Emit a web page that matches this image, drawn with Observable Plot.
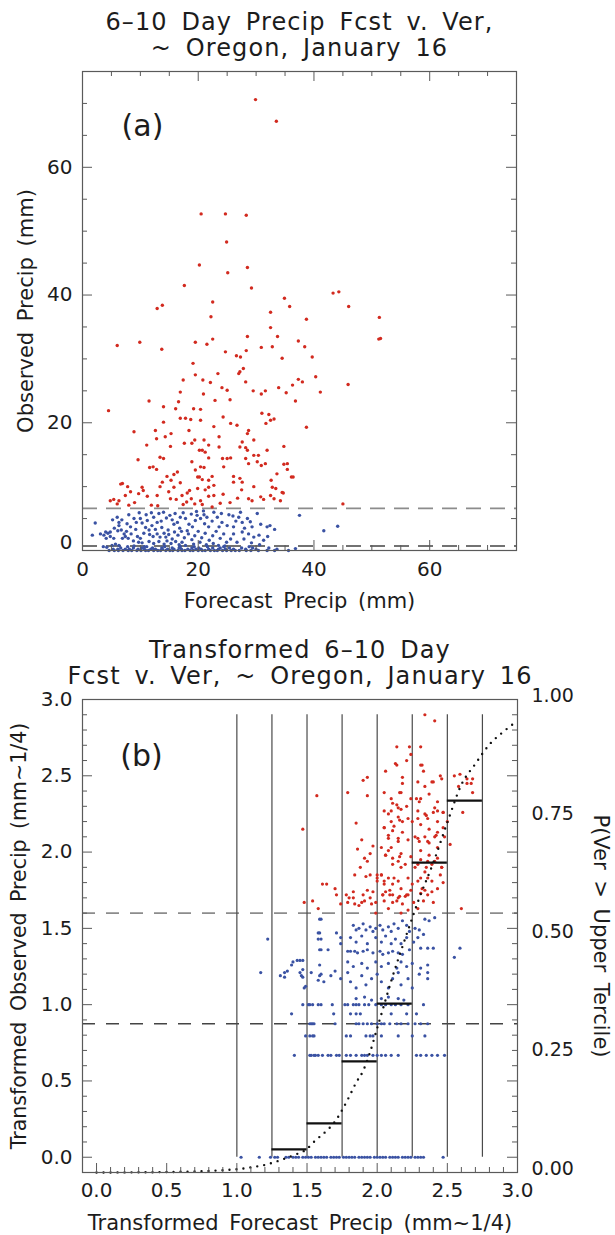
<!DOCTYPE html>
<html><head><meta charset="utf-8">
<script src="https://cdn.jsdelivr.net/npm/d3@7"></script>
<script src="https://cdn.jsdelivr.net/npm/@observablehq/plot@0.6"></script>
<style>
body{margin:0;background:#fff;}
#chart svg{display:block;}
#chart g[font-size="24"] text{letter-spacing:1.1px;word-spacing:5px;}
#chart g[font-size="21"] text{word-spacing:4px;}
#chart g[font-size="20.5"] text{word-spacing:4px;}
</style></head><body><div id="chart"></div>
<script>
// ---------------- Panel (a) data ----------------
const titleA1 = "6–10 Day Precip Fcst v. Ver,";
const titleA2 = "~ Oregon, January 16";
const xLabelA = "Forecast Precip (mm)";
const yLabelA = "Observed Precip (mm)";
const panelA = "(a)";
const aMajorTicks = [0, 20, 40, 60];
const aMinorTicks = [5, 10, 15, 25, 30, 35, 45, 50, 55, 65, 70];
const aUpperTercile = 6.6;
const aLowerTercile = 0.7;
const redA = [[29.9,70.6],[33.5,67.2],[20.5,52.7],[24.7,52.7],[28.3,52.5],[24.9,48.3],[20.2,44.7],[25.1,43.5],[28.5,44.3],[17.6,41.5],[29.2,41.1],[12.9,37.9],[13.8,38.4],[22.5,38.9],[22.2,36.6],[34.9,39.5],[35.8,38.2],[32.5,37.3],[38.7,36.2],[32.5,34.9],[6.0,32.1],[9.9,32.6],[13.7,31.5],[19.5,32.6],[21.5,32.3],[22.5,33.1],[24.7,31.1],[26.6,30.5],[27.3,30.3],[28.5,33.5],[28.3,31.3],[30.9,31.8],[32.8,31.9],[33.7,33.5],[34.5,30.1],[37.3,32.8],[38.4,31.9],[39.7,30.3],[19.1,29.3],[19.5,27.5],[23.4,27.7],[27.0,27.7],[27.2,28.0],[27.8,28.5],[40.3,27.2],[43.3,40.3],[44.3,40.5],[46.0,38.2],[51.3,36.5],[51.2,33.1],[51.5,33.2],[37.3,26.8],
[4.5,21.9],[11.5,23.4],[14.0,22.5],[17.4,26.7],[20.8,26.7],[20.9,24.5],[22.1,26.3],[22.9,23.5],[24.1,25.5],[25.5,23.6],[28.2,26.4],[29.5,25.0],[30.9,24.5],[31.6,25.0],[33.9,25.5],[35.2,24.7],[36.3,25.9],[38.0,26.4],[36.8,23.4],[41.1,24.8],[38.7,19.3],[45.9,26.0],
[8.9,18.6],[9.6,14.2],[11.1,16.5],[12.6,18.8],[12.8,17.5],[13.4,14.6],[14.0,20.1],[14.3,17.8],[15.3,18.3],[15.2,16.3],[14.0,14.4],[12.2,13.1],[12.8,12.7],[11.6,13.0],[10.3,9.9],[10.5,9.4],[9.7,8.9],[7.4,8.6],[6.9,10.5],[6.6,10.4],[7.8,10.0],[8.3,9.2],[5.4,8.0],[6.3,7.8],[4.8,7.8],[6.0,7.3],[11.2,8.5],[11.9,7.1],[12.9,8.6],[13.4,10.0],[13.8,10.7],[14.6,11.6],[15.3,11.0],[15.8,11.9],[16.4,12.3],[16.9,10.6],[15.8,9.9],[15.2,8.1],[16.2,8.0],[17.2,8.6],[18.1,9.0],[18.5,9.4],[17.4,7.2],[18.0,7.6],[19.4,7.3],[20.4,7.8],[18.8,8.1],[19.5,12.6],[19.9,11.5],[18.9,13.9],[17.6,16.8],[18.9,16.8],[19.4,17.3],[18.4,18.8],[18.7,20.5],[17.8,20.7],[19.2,22.2],[20.4,22.1],[20.4,20.4],[20.2,15.7],[21.0,17.3],[20.7,15.7],[21.2,15.4],[21.8,16.5],[20.4,13.1],[21.0,13.0],[20.2,11.5],[20.7,11.1],[21.8,11.0],[22.4,11.6],[21.8,9.9],[22.7,10.2],[21.2,9.5],[21.8,8.5],[22.7,8.6],[24.3,8.8],[20.7,7.2],[22.4,6.8],[23.6,16.2],[24.2,14.4],[25.0,14.4],[25.6,14.5],[24.4,13.1],[25.6,19.9],[26.1,11.6],[26.1,10.7],[27.2,11.3],[27.6,10.7],[27.2,16.2],[28.2,16.1],[28.5,15.7],[28.7,18.8],[28.5,18.3],[26.7,19.6],[28.7,13.6],[28.2,14.4],[29.6,14.9],[30.4,14.9],[30.2,13.9],[30.9,13.3],[31.6,13.6],[29.6,10.0],[30.8,8.4],[31.3,8.0],[28.7,8.1],[29.3,7.8],[32.6,11.0],[32.8,9.9],[32.5,8.6],[33.1,8.1],[33.4,9.7],[34.7,9.0],[33.6,12.0],[35.4,13.6],[36.1,11.5],[34.8,16.3],[31.9,15.7],[31.0,21.5],[32.2,21.3],[32.5,20.4],[31.7,19.9],[33.1,20.6],[16.9,20.7],[16.1,22.2],[16.6,23.3],[16.9,24.8],[21.8,14.5],[22.7,19.4],[23.6,17.8],[29.6,17.3],[25.0,25.1],[24.3,20.9],[27.6,17.0],[34.8,13.5],[35.4,12.7],[36.4,11.5],[34.5,9.1],[34.2,7.8],[45.0,7.3],
[25.5,7.5],[26.8,8.2],[23.8,7.4],[27.5,9.5],[19.9,9.7],[14.9,9.2],[13.0,7.0],[9.0,7.5],[8.0,7.1]];
const blueA = [[2.2,4.3],[1.7,2.4],[3.1,2.6],[3.7,2.4],[4.0,2.9],[4.4,2.7],[4.8,2.9],[4.1,1.9],[4.8,2.2],[5.4,1.9],[6.0,5.2],[6.3,4.4],[6.3,3.9],[6.1,3.1],[6.7,3.2],[7.2,2.6],[7.4,2.2],[6.9,1.9],[5.7,1.0],[5.1,0.8],[6.3,0.8],[4.2,0.5],[3.6,0.6],[7.7,4.2],[8.3,3.7],[8.9,5.0],[9.2,3.3],[8.4,2.6],[7.9,1.9],[8.8,1.5],[9.5,2.2],[10.0,1.9],[9.7,1.3],[10.3,1.2],[10.7,0.6],[8.9,0.7],[10.0,5.0],[10.3,4.3],[11.2,4.7],[10.9,3.6],[11.5,3.2],[12.0,3.9],[12.3,5.2],[12.9,4.4],[11.6,2.5],[12.2,2.2],[12.9,2.6],[13.4,2.1],[14.1,2.7],[14.4,2.1],[14.9,2.5],[15.5,1.8],[11.5,1.4],[12.3,1.1],[13.2,1.4],[14.1,1.0],[14.6,1.5],[15.3,1.1],[16.1,1.4],[16.7,0.9],[17.2,1.3],[17.8,0.8],[13.2,5.8],[14.0,6.0],[14.5,5.1],[15.1,5.5],[15.5,4.8],[15.8,4.1],[16.4,4.4],[16.9,5.2],[17.4,5.9],[17.8,5.0],[18.4,4.1],[18.1,3.1],[19.0,3.7],[19.5,4.7],[19.8,5.5],[20.4,5.0],[21.0,5.6],[21.5,5.2],[21.1,4.2],[21.8,3.7],[22.4,4.6],[22.7,6.0],[23.3,5.2],[23.6,3.7],[24.1,4.4],[25.0,3.9],[25.3,5.6],[26.1,3.7],[27.0,5.2],[27.6,4.4],[28.5,5.0],[29.3,3.7],[30.2,5.8],[30.8,4.1],[31.9,3.7],[32.4,3.9],[30.5,2.4],[28.7,2.6],[27.6,2.9],[26.1,2.6],[25.6,1.8],[26.7,1.3],[27.9,1.8],[29.6,2.1],[31.3,1.6],[37.5,5.5],[41.7,3.1],[44.1,3.8],[36.8,0.3],
[16.5,2.4],[17.1,3.0],[17.6,2.0],[18.3,2.6],[18.9,1.7],[19.4,2.3],[20.0,3.0],[20.6,2.0],[21.2,2.7],[21.9,1.6],[22.5,2.3],[23.1,3.0],[23.8,1.9],[24.4,2.6],[24.9,1.3],[19.2,1.0],[20.3,1.3],[21.4,0.9],[22.6,1.1],[23.5,0.8],[24.6,0.7],[9.3,4.4],[10.6,2.7],[11.0,5.6],[12.6,3.3],[13.7,3.6],[14.8,3.2],[15.9,2.9],[16.8,3.5],[13.6,4.6],[6.8,4.8],[7.6,3.0],[5.5,3.5],[5.2,4.8],[8.0,5.6],[9.8,5.9],[11.9,5.9],[16.0,5.8],[18.8,5.7],[19.7,6.1],[20.9,6.2],[26.5,4.6],[28.0,3.5],[29.0,4.5],[27.3,6.0],[24.0,5.8],[26.0,5.4],[33.2,3.3],[32.0,2.2],[29.2,1.2],[30.6,0.9]];
const blueA_row0 = [4.6,5.5,6.2,7.0,7.9,8.5,9.4,10.1,10.9,11.4,12.3,13.0,13.5,14.4,15.1,15.6,16.5,17.2,17.7,18.6,19.1,20.0,20.7,21.2,22.1,22.8,23.3,24.2,24.9,25.7,26.4,27.1,28.3,29.1,30.4,31.9,33.2,35.6];
const blueA_row02 = [5.3,6.1,7.4,8.1,9.6,10.7,11.8,12.6,13.8,14.7,15.8,17.1,18.2,19.6,20.5,21.8,23.5,24.7,26.1,28.2,30.0,33.6];
const blueA_row04 = [6.6,8.8,10.2,12.1,13.7,15.5,16.7,18.9,20.1,22.5,23.8,25.4,27.5,29.4,32.2];
const blueA_row06 = [7.8,11.1,14.2,16.9,19.3,21.6,24.4,28.8];

// ---------------- Panel (b) data ----------------
const titleB1 = "Transformed 6–10 Day";
const titleB2 = "Fcst v. Ver, ~ Oregon, January 16";
const xLabelB = "Transformed Forecast Precip (mm~1/4)";
const yLabelB = "Transformed Observed Precip (mm~1/4)";
const y2LabelB = "P(Ver > Upper Tercile)";
const panelB = "(b)";
const bMajorTicks = [0, 0.5, 1.0, 1.5, 2.0, 2.5, 3.0];
const bMinorTicks = [0.1,0.2,0.3,0.4,0.6,0.7,0.8,0.9,1.1,1.2,1.3,1.4,1.6,1.7,1.8,1.9,2.1,2.2,2.3,2.4,2.6,2.7,2.8,2.9];
const bProbTicks = [0, 0.25, 0.5, 0.75, 1.0];
const bUpperTercile = 1.6;
const bLowerTercile = 0.875;
const bBinEdges = [1.0, 1.25, 1.5, 1.75, 2.0, 2.25, 2.5, 2.75];
const bBinTop = 2.9;
const bBinLo = [1.25, 1.5, 1.75, 2.0, 2.25, 2.5];
const bBinHi = [1.5, 1.75, 2.0, 2.25, 2.5, 2.75];
const bBinProb = [0.049, 0.104, 0.235, 0.357, 0.655, 0.786];
const bCurveX = [0.0, 0.5, 1.0, 1.1, 1.2, 1.3, 1.4, 1.5, 1.55, 1.6, 1.65, 1.7, 1.75, 1.8, 1.85, 1.9, 1.95, 2.0, 2.05, 2.1, 2.2, 2.3, 2.4, 2.5, 2.6, 2.7, 2.8, 2.9, 3.0];
const bCurveP = [0.0, 0.001, 0.007, 0.011, 0.016, 0.025, 0.036, 0.05, 0.065, 0.078, 0.091, 0.108, 0.132, 0.16, 0.19, 0.215, 0.255, 0.305, 0.355, 0.405, 0.495, 0.58, 0.655, 0.74, 0.82, 0.864, 0.905, 0.932, 0.955];
const redB = [[2.34,2.90],[2.41,2.86],[1.57,2.37],[1.47,2.15],[1.48,1.67],[1.54,1.68],[1.58,1.63],
[1.61,1.79],[1.64,1.79],[1.70,1.76],[1.71,1.72],[1.74,1.66],[1.78,1.72],[1.80,1.70],[1.83,1.74],[1.84,1.66],[1.89,1.67],[1.90,1.72],[1.93,1.75],[1.95,1.70],[1.97,1.74],[1.99,1.67],[2.00,1.85],[2.03,1.85],[2.04,1.72],[2.06,1.74],[2.09,1.72],[2.11,1.72],[2.14,1.68],[2.17,1.60],[2.20,1.71],[2.22,1.72],[2.24,1.75],
[1.79,2.39],[1.85,2.19],[1.89,2.08],[1.86,2.02],[1.91,1.96],[1.97,2.04],[1.95,1.99],[1.93,1.94],[1.88,1.90],[1.84,1.85],[1.92,1.84],[1.95,1.85],
[1.90,2.47],[1.93,2.49],[1.93,2.37],[2.06,2.53],[2.14,2.69],[2.18,2.49],[2.21,2.60],[2.23,2.69],[2.14,2.57],[2.31,2.57],[2.31,2.69],
[2.05,2.39],[2.10,2.35],[2.17,2.39],[2.14,2.31],[2.17,2.28],[2.21,2.30],[2.24,2.35],[2.28,2.35],[2.30,2.33],
[2.05,2.27],[2.08,2.25],[2.10,2.20],[2.15,2.23],[2.18,2.20],[2.22,2.22],[2.25,2.20],[2.29,2.22],[2.34,2.25],[2.36,2.22],[2.40,2.26],[2.43,2.27],[2.47,2.26],
[2.05,2.16],[2.08,2.11],[2.11,2.14],[2.15,2.09],[2.18,2.13],[2.22,2.08],[2.27,2.10],[2.30,2.07],[2.34,2.10],[2.37,2.06],[2.41,2.10],[2.43,2.13],[2.48,2.10],
[2.03,2.03],[2.06,1.98],[2.08,2.01],[2.11,1.96],[2.15,1.94],[2.17,1.99],[2.20,1.92],[2.24,1.97],[2.27,1.90],[2.31,1.95],[2.34,1.87],[2.36,1.94],[2.39,1.92],[2.43,1.96],[2.46,1.90],
[2.00,1.83],[2.05,1.81],[2.08,1.83],[2.11,1.79],[2.15,1.81],[2.17,1.76],[2.22,1.83],[2.25,1.79],[2.29,1.81],[2.32,1.76],[2.36,1.83],[2.39,1.74],[2.43,1.76],[2.47,1.80],
[2.05,1.68],[2.08,1.63],[2.11,1.67],[2.15,1.70],[2.18,1.66],[2.22,1.62],[2.26,1.67],[2.29,1.63],[2.33,1.68],[2.36,1.72],[2.40,1.67],[2.31,1.73],[2.34,1.75],
[2.55,2.50],[2.59,2.51],[2.64,2.45],[2.68,2.48],[2.68,2.39],[2.58,2.43],[2.61,2.26],[2.60,1.63],[2.52,2.05],[2.50,2.20],
[2.24,2.64],[2.13,2.58],[2.32,2.57],[2.33,2.53],[2.18,2.45],[2.16,2.39],[2.39,2.46],[2.45,2.50],[2.46,2.48],[2.67,2.45],[2.64,2.48],
[1.79,1.67],[1.83,1.70],[1.87,1.65],[1.91,1.68],[1.96,1.66],[1.99,1.60],
[2.11,2.32],[2.15,2.29],[2.10,2.27],[2.16,2.21],[2.05,2.16],[2.12,2.17],[2.08,2.09],[2.15,2.07],[2.10,2.03],[2.06,1.98],[2.16,1.97],[2.11,1.92],[2.17,1.90],[2.03,1.85],[2.12,1.83],[2.05,1.79],[2.00,1.81],[2.09,1.75],[2.16,1.71],[2.21,1.72],[2.04,1.72],
[2.29,2.46],[2.34,2.43],[2.40,2.46],[2.31,2.35],[2.37,2.38],[2.43,2.33],[2.29,2.27],[2.35,2.24],[2.41,2.29],[2.47,2.26],[2.31,2.18],[2.37,2.15],[2.43,2.20],[2.29,2.09],[2.36,2.07],[2.42,2.11],[2.47,2.16],[2.31,2.01],[2.37,1.98],[2.43,2.03],[2.29,1.92],[2.35,1.90],[2.41,1.94],[2.46,1.90],[2.31,1.83],[2.39,1.81],[2.45,1.85]];
const blueB = [[1.22,1.43],[1.17,1.21],[1.34,1.21],[1.34,1.18],[1.39,1.26],[1.43,1.29],[1.47,1.29],[1.45,1.21],[1.47,1.18],[1.53,1.21],[1.48,1.11],[1.59,1.56],[1.59,1.47],[1.58,1.43],[1.59,1.36],[1.59,1.26],[1.59,1.19],
[1.60,1.56],[1.58,1.47],[1.60,1.43],[1.60,1.36],[1.65,1.36],[1.71,1.47],[1.74,1.44],[1.74,1.40],
[1.79,1.35],[1.81,1.35],[1.84,1.35],[1.86,1.34],[1.90,1.35],[1.93,1.36],[1.97,1.34],[2.02,1.35],[2.04,1.33],[2.08,1.34],[2.11,1.35],[2.15,1.34],[2.18,1.33],[2.23,1.36],[2.31,1.37],[2.36,1.37],[2.40,1.37],
[1.83,1.52],[1.85,1.49],[1.87,1.50],[1.90,1.53],[1.92,1.49],[1.95,1.51],[1.97,1.48],[1.99,1.50],[2.02,1.52],[2.04,1.49],[2.08,1.51],[2.10,1.48],[2.12,1.53],[2.15,1.50],[2.18,1.55],[2.21,1.52],[2.23,1.48],[2.27,1.50],[2.30,1.49],[2.34,1.56],[2.37,1.55],[2.41,1.57],
[1.81,1.44],[1.85,1.41],[1.89,1.45],[1.93,1.40],[1.99,1.44],[2.03,1.41],[2.06,1.45],[2.10,1.40],[2.13,1.43],[2.17,1.40],[2.21,1.44],[2.26,1.41],[2.29,1.44],[2.33,1.46],
[1.79,1.28],[1.83,1.25],[1.89,1.27],[1.93,1.24],[1.99,1.28],[2.03,1.25],[2.08,1.27],[2.14,1.24],[2.17,1.28],[2.21,1.25],[2.25,1.27],[2.31,1.24],[2.36,1.26],[2.59,1.37],[2.55,1.31],
[1.31,1.19],[1.36,1.22],[1.40,1.28],[1.45,1.29],[1.47,1.23],[1.46,1.19],[1.49,1.12],[1.58,1.16],[1.60,1.20],[1.62,1.15],[1.67,1.19],[1.70,1.22],[1.74,1.17],[1.79,1.21],[1.81,1.15],[1.85,1.11],[1.89,1.19],[1.92,1.13],[1.96,1.17],[2.00,1.20],[2.03,1.15],[2.08,1.11],[2.11,1.17],[2.15,1.21],[2.17,1.13],[2.22,1.17],[2.25,1.11],[2.30,1.20],[2.36,1.21],[2.36,1.17],
[1.85,1.04],[1.91,1.05],[1.96,1.03],[2.03,1.04],[2.08,1.05],[2.15,1.04],[2.19,1.03]];
const blueB_row100 = [1.47,1.51,1.52,1.54,1.58,1.60,1.68,1.77,1.79,1.83,1.85,1.87,1.91,1.94,1.99,2.03,2.06,2.10,2.13,2.17,2.22,2.33];
const blueB_row094 = [1.39,1.69,1.81,1.85,1.88,2.10,2.21,2.28];
const blueB_row087 = [1.52,1.53,1.54,1.55,1.70,1.85,1.87,1.90,1.93,1.96,2.00,2.03,2.05,2.09,2.14,2.17,2.22,2.27,2.31,2.36];
const blueB_row079 = [1.49,1.52,1.54,1.55,1.78,1.81,1.92,1.95,1.97,2.03,2.15,2.25,2.34];
const blueB_row067 = [1.41,1.52,1.53,1.55,1.56,1.58,1.61,1.65,1.67,1.71,1.73,1.78,1.81,1.85,1.89,1.91,1.93,1.97,2.00,2.03,2.06,2.10,2.15,2.28,2.31,2.35,2.39,2.43,2.48];
const blueB_row0 = [1.03,1.16,1.24,1.27,1.29,1.35,1.37,1.40,1.42,1.44,1.47,1.49,1.51,1.53,1.56,1.58,1.60,1.62,1.64,1.67,1.69,1.71,1.73,1.76,1.78,1.80,1.82,1.84,1.87,1.89,1.91,1.93,1.95,1.98,2.00,2.02,2.04,2.06,2.09,2.11,2.13,2.15,2.18,2.20,2.22,2.24,2.27,2.29,2.31,2.33,2.47];

// ---------------- styling ----------------
const FONT = "DejaVu Sans";
const RED = "#d22a1f";
const BLUE = "#3a52a3";
const AXC = "#5a5a5a";
const TXT = "#1c1c1c";
const W = 615;

function rows(list, y) { return list.map(x => [x, y]); }

// ---------- Panel (a) ----------
const aH = 615, aTop = 71, aBottom = 65, aLeft = 82, aRight = 99;
const aIH = aH - aTop - aBottom, aIW = W - aLeft - aRight;
const blueAll = blueA.concat(rows(blueA_row0, 0), rows(blueA_row02, 0.2), rows(blueA_row04, 0.4), rows(blueA_row06, 0.6));

const plotA = Plot.plot({
  width: W, height: aH,
  marginTop: aTop, marginBottom: aBottom, marginLeft: aLeft, marginRight: aRight,
  x: {domain: [0, 75], axis: null},
  y: {domain: [0, 75], axis: null},
  style: {fontFamily: FONT, fontSize: "20px", background: "#fff", overflow: "visible", color: TXT},
  marks: [
    Plot.ruleY([aUpperTercile], {y: d => d, stroke: "#8c8c8c", strokeWidth: 1.6, strokeDasharray: "15,9"}),
    Plot.ruleY([aLowerTercile], {y: d => d, stroke: "#444", strokeWidth: 1.6, strokeDasharray: "15,9"}),
    Plot.dot(blueAll, {x: d => d[0], y: d => d[1], r: 1.7, fill: BLUE, stroke: null}),
    Plot.dot(redA, {x: d => d[0], y: d => d[1], r: 1.7, fill: RED, stroke: null}),
    // ticks (inward, all four sides)
    Plot.ruleX(aMajorTicks, {x: d => d, insetTop: aIH - 10, stroke: AXC}),
    Plot.ruleX(aMinorTicks, {x: d => d, insetTop: aIH - 5, stroke: AXC}),
    Plot.ruleX(aMajorTicks, {x: d => d, insetBottom: aIH - 10, stroke: AXC}),
    Plot.ruleX(aMinorTicks, {x: d => d, insetBottom: aIH - 5, stroke: AXC}),
    Plot.ruleY(aMajorTicks, {y: d => d, insetRight: aIW - 10, stroke: AXC}),
    Plot.ruleY(aMinorTicks, {y: d => d, insetRight: aIW - 5, stroke: AXC}),
    Plot.ruleY(aMajorTicks, {y: d => d, insetLeft: aIW - 10, stroke: AXC}),
    Plot.ruleY(aMinorTicks, {y: d => d, insetLeft: aIW - 5, stroke: AXC}),
    Plot.frame({stroke: AXC, strokeWidth: 1.2}),
    // tick labels
    Plot.text(aMajorTicks, {x: d => d, text: d => String(d), frameAnchor: "bottom", dy: 25, fill: TXT, fontSize: 20}),
    Plot.text(aMajorTicks.filter(d => d > 0), {y: d => d, text: d => String(d), frameAnchor: "left", textAnchor: "end", dx: -10, fill: TXT, fontSize: 20}),
    Plot.text(aMajorTicks.filter(d => d === 0), {y: d => d, text: d => String(d), frameAnchor: "left", textAnchor: "end", dx: -10, dy: -8, fill: TXT, fontSize: 20}),
    // axis titles
    Plot.text([xLabelA], {text: d => d, frameAnchor: "bottom", dy: 57, lineAnchor: "bottom", fill: TXT, fontSize: 21}),
    Plot.text([yLabelA], {text: d => d, frameAnchor: "left", rotate: -90, dx: -50, textAnchor: "middle", lineAnchor: "bottom", fill: TXT, fontSize: 21}),
    // titles
    Plot.text([titleA1], {text: d => d, frameAnchor: "top", dy: -42, lineAnchor: "bottom", fill: TXT, fontSize: 24}),
    Plot.text([titleA2], {text: d => d, frameAnchor: "top", dy: -16, lineAnchor: "bottom", fill: TXT, fontSize: 24}),
    Plot.text([panelA], {text: d => d, frameAnchor: "top-left", dx: 60, dy: 55, textAnchor: "middle", lineAnchor: "middle", fill: TXT, fontSize: 30})
  ]
});

// ---------- Panel (b) ----------
const bH = 620, bTop = 84, bBottom = 63, bLeft = 82, bRight = 98;
const bIH = bH - bTop - bBottom, bIW = W - bLeft - bRight;
const bYmin = -0.1, bYmax = 3.0;
const pToY = p => bYmin + (bYmax - bYmin) * p;
const blueBAll = blueB.concat(rows(blueB_row100, 1.0), rows(blueB_row094, 0.94), rows(blueB_row087, 0.875),
  rows(blueB_row079, 0.795), rows(blueB_row067, 0.668), rows(blueB_row0, 0));
const bins = bBinLo.map((lo, i) => ({lo, hi: bBinHi[i], p: bBinProb[i]}));
const curve = bCurveX.map((x, i) => ({x, p: bCurveP[i]}));

const plotB = Plot.plot({
  width: W, height: bH,
  marginTop: bTop, marginBottom: bBottom, marginLeft: bLeft, marginRight: bRight,
  x: {domain: [-0.1, 3.0], axis: null},
  y: {domain: [bYmin, bYmax], axis: null},
  style: {fontFamily: FONT, fontSize: "20px", background: "#fff", overflow: "visible", color: TXT},
  marks: [
    Plot.ruleY([bUpperTercile], {y: d => d, stroke: "#8c8c8c", strokeWidth: 1.6, strokeDasharray: "13,11"}),
    Plot.ruleY([bLowerTercile], {y: d => d, stroke: "#444", strokeWidth: 1.6, strokeDasharray: "13,11"}),
    Plot.ruleX(bBinEdges, {x: d => d, y1: 0, y2: bBinTop, stroke: "#4a4a4a", strokeWidth: 1.2}),
    Plot.dot(blueBAll, {x: d => d[0], y: d => d[1], r: 1.6, fill: BLUE, stroke: null}),
    Plot.dot(redB, {x: d => d[0], y: d => d[1], r: 1.6, fill: RED, stroke: null}),
    Plot.ruleY(bins, {x1: "lo", x2: "hi", y: d => pToY(d.p), stroke: "#111", strokeWidth: 2.2}),
    Plot.line(curve, {x: "x", y: d => pToY(d.p), curve: "monotone-x", stroke: "#111", strokeWidth: 2.4, strokeDasharray: "0,7", strokeLinecap: "round"}),
    // ticks: bottom, left, right
    Plot.ruleX(bMajorTicks, {x: d => d, insetTop: bIH - 9, stroke: AXC}),
    Plot.ruleX(bMinorTicks, {x: d => d, insetTop: bIH - 5, stroke: AXC}),
    Plot.ruleY(bMajorTicks, {y: d => d, insetRight: bIW - 10, stroke: AXC}),
    Plot.ruleY(bMinorTicks, {y: d => d, insetRight: bIW - 5, stroke: AXC}),
    Plot.ruleY(bMajorTicks, {y: d => d, insetLeft: bIW - 10, stroke: AXC}),
    Plot.ruleY(bMinorTicks, {y: d => d, insetLeft: bIW - 5, stroke: AXC}),
    Plot.frame({stroke: AXC, strokeWidth: 1.2}),
    // tick labels
    Plot.text(bMajorTicks, {x: d => d, text: d => d.toFixed(1), frameAnchor: "bottom", dy: 24, fill: TXT, fontSize: 20}),
    Plot.text(bMajorTicks, {y: d => d, text: d => d.toFixed(1), frameAnchor: "left", textAnchor: "end", dx: -10, fill: TXT, fontSize: 20}),
    Plot.text(bProbTicks, {y: d => pToY(d), text: d => d.toFixed(2), frameAnchor: "right", textAnchor: "start", dx: 14, dy: -4, fill: TXT, fontSize: 19}),
    // axis titles
    Plot.text([xLabelB], {text: d => d, frameAnchor: "bottom", dy: 57, lineAnchor: "bottom", fill: TXT, fontSize: 21}),
    Plot.text([yLabelB], {text: d => d, frameAnchor: "left", rotate: -90, dx: -57, textAnchor: "middle", lineAnchor: "bottom", fill: TXT, fontSize: 20.5}),
    Plot.text([y2LabelB], {text: d => d, frameAnchor: "right", rotate: 90, dx: 76, textAnchor: "middle", lineAnchor: "bottom", fill: TXT, fontSize: 21}),
    // titles
    Plot.text([titleB1], {text: d => d, frameAnchor: "top", dy: -42, lineAnchor: "bottom", fill: TXT, fontSize: 24}),
    Plot.text([titleB2], {text: d => d, frameAnchor: "top", dy: -16, lineAnchor: "bottom", fill: TXT, fontSize: 24}),
    Plot.text([panelB], {text: d => d, frameAnchor: "top-left", dx: 59, dy: 57, textAnchor: "middle", lineAnchor: "middle", fill: TXT, fontSize: 30})
  ]
});

const root = document.getElementById("chart");
root.appendChild(plotA);
root.appendChild(plotB);
</script>
</body></html>
